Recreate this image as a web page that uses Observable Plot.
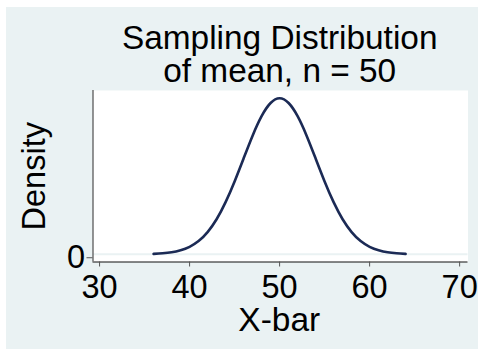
<!DOCTYPE html>
<html>
<head>
<meta charset="utf-8">
<script src="https://cdn.jsdelivr.net/npm/d3@7"></script>
<script src="https://cdn.jsdelivr.net/npm/@observablehq/plot@0.6"></script>
<style>
  html, body { margin: 0; padding: 0; background: white; }
</style>
</head>
<body>
<div id="chart"></div>
<script>
// Values
const xbar = [36, 37, 38, 39, 40, 41, 42, 43, 44, 45, 46, 47, 48, 49, 50,
              51, 52, 53, 54, 55, 56, 57, 58, 59, 60, 61, 62, 63, 64];
const density = [0.00025, 0.0006, 0.0012, 0.0025, 0.0047, 0.0083, 0.0140, 0.0221, 0.0329, 0.0460,
                 0.0605, 0.0749, 0.0872, 0.0955, 0.0985,
                 0.0955, 0.0872, 0.0749, 0.0605, 0.0460, 0.0329, 0.0221, 0.0140, 0.0083, 0.0047,
                 0.0025, 0.0012, 0.0006, 0.00025];
const xTicks = [30, 40, 50, 60, 70];
const yTicks = [0];
const titleLines = ["Sampling Distribution", "of mean, n = 50"];
const xLabel = "X-bar";
const yLabel = "Density";
const xDomain = [29.27, 70.93];
const yDomain = [-0.0049, 0.1034];

const data = xbar.map((x, i) => ({x, d: density[i]}));
const BG = "#EAF2F3";
const FONT = "'Liberation Sans', Arial, Helvetica, sans-serif";

const chart = Plot.plot({
  width: 478,
  height: 349,
  marginLeft: 92.5,
  marginRight: 10.5,
  marginTop: 90,
  marginBottom: 87.5,
  style: {
    background: `linear-gradient(${BG}, ${BG}) 6px 7px / 472px 342px no-repeat, white`,
    fontFamily: FONT,
    fontSize: "32px",
    color: "black",
    overflow: "visible"
  },
  x: {domain: xDomain, axis: null},
  y: {domain: yDomain, axis: null},
  marks: [
    Plot.frame({fill: "white", stroke: null}),
    Plot.ruleY(yTicks, {stroke: BG, strokeWidth: 2}),
    Plot.line(data, {x: "x", y: "d", stroke: "#1B2A55", strokeWidth: 2.6, curve: "natural"}),
    Plot.ruleY([yDomain[0]], {stroke: "#111", strokeWidth: 1.2}),
    Plot.ruleX([xDomain[0]], {stroke: "#666", strokeWidth: 1.4}),
    Plot.axisX(xTicks, {anchor: "bottom", tickSize: 5, tickPadding: 8, fontSize: 32.5, label: null, stroke: "#555", fill: "black", tickFormat: d => String(d)}),
    Plot.axisY(yTicks, {anchor: "left", tickSize: 6, tickPadding: 2, fontSize: 32.5, label: null, stroke: "#555", fill: "black", dy: 3.5, tickFormat: d => String(d)}),
    Plot.text([titleLines[0]], {frameAnchor: "top", text: d => d, dy: -52.7, dx: -0.8, fontSize: 33.4, lineAnchor: "middle", textAnchor: "middle", fill: "black"}),
    Plot.text([titleLines[1]], {frameAnchor: "top", text: d => d, dy: -19.7, dx: -0.8, fontSize: 33.4, lineAnchor: "middle", textAnchor: "middle", fill: "black"}),
    Plot.text([xLabel], {frameAnchor: "bottom", text: d => d, dy: 58.3, dx: -1.2, fontSize: 33.5, lineAnchor: "middle", textAnchor: "middle", fill: "black"}),
    Plot.text([yLabel], {frameAnchor: "left", text: d => d, rotate: -90, dx: -58, fontSize: 32.5, lineAnchor: "middle", textAnchor: "middle", fill: "black"})
  ]
});
document.getElementById("chart").appendChild(chart);
</script>
</body>
</html>
